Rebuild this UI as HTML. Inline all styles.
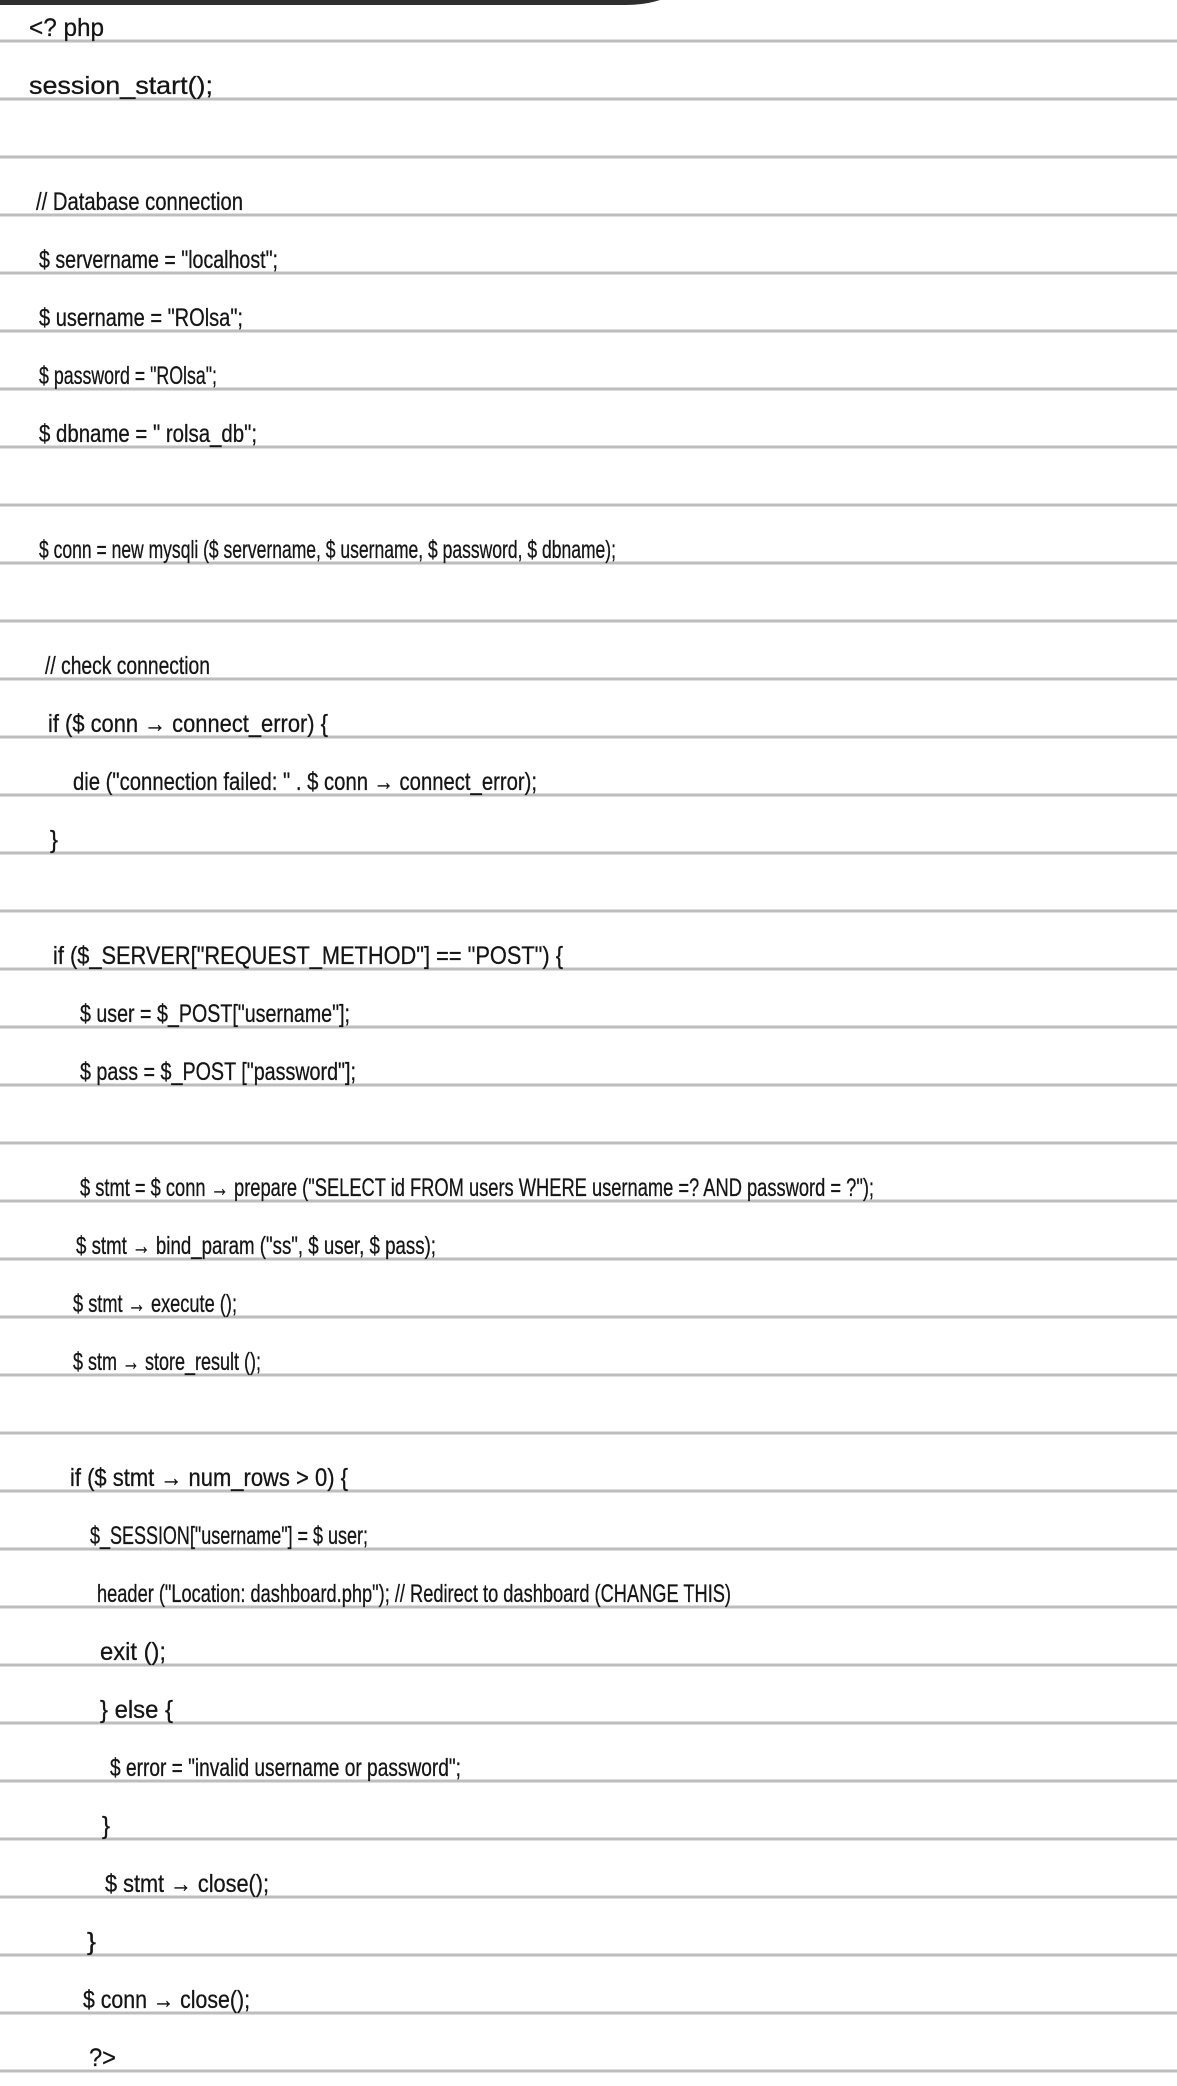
<!DOCTYPE html>
<html><head><meta charset="utf-8"><style>
html,body{margin:0;padding:0;background:#fff;width:1177px;height:2086px;overflow:hidden}
svg{display:block}
text{font-family:"Liberation Sans",sans-serif;font-size:25px;fill:#151515;stroke:#151515;stroke-width:0.3}
</style></head><body>
<svg width="1177" height="2086" viewBox="0 0 1177 2086" xmlns="http://www.w3.org/2000/svg">
<rect x="0" y="0" width="1177" height="2086" fill="#fff"/>
<path d="M0 0 H660 Q645 5 625 5 H0 Z" fill="#2e2e2e"/>
<g stroke="#bdbdbd" stroke-width="3">
<line x1="0" y1="41" x2="1177" y2="41"/><line x1="0" y1="99" x2="1177" y2="99"/><line x1="0" y1="157" x2="1177" y2="157"/><line x1="0" y1="215" x2="1177" y2="215"/><line x1="0" y1="273" x2="1177" y2="273"/><line x1="0" y1="331" x2="1177" y2="331"/><line x1="0" y1="389" x2="1177" y2="389"/><line x1="0" y1="447" x2="1177" y2="447"/><line x1="0" y1="505" x2="1177" y2="505"/><line x1="0" y1="563" x2="1177" y2="563"/><line x1="0" y1="621" x2="1177" y2="621"/><line x1="0" y1="679" x2="1177" y2="679"/><line x1="0" y1="737" x2="1177" y2="737"/><line x1="0" y1="795" x2="1177" y2="795"/><line x1="0" y1="853" x2="1177" y2="853"/><line x1="0" y1="911" x2="1177" y2="911"/><line x1="0" y1="969" x2="1177" y2="969"/><line x1="0" y1="1027" x2="1177" y2="1027"/><line x1="0" y1="1085" x2="1177" y2="1085"/><line x1="0" y1="1143" x2="1177" y2="1143"/><line x1="0" y1="1201" x2="1177" y2="1201"/><line x1="0" y1="1259" x2="1177" y2="1259"/><line x1="0" y1="1317" x2="1177" y2="1317"/><line x1="0" y1="1375" x2="1177" y2="1375"/><line x1="0" y1="1433" x2="1177" y2="1433"/><line x1="0" y1="1491" x2="1177" y2="1491"/><line x1="0" y1="1549" x2="1177" y2="1549"/><line x1="0" y1="1607" x2="1177" y2="1607"/><line x1="0" y1="1665" x2="1177" y2="1665"/><line x1="0" y1="1723" x2="1177" y2="1723"/><line x1="0" y1="1781" x2="1177" y2="1781"/><line x1="0" y1="1839" x2="1177" y2="1839"/><line x1="0" y1="1897" x2="1177" y2="1897"/><line x1="0" y1="1955" x2="1177" y2="1955"/><line x1="0" y1="2013" x2="1177" y2="2013"/><line x1="0" y1="2071" x2="1177" y2="2071"/>
</g>
<g>
<text x="29" y="36" textLength="75" lengthAdjust="spacingAndGlyphs">&lt;? php</text>
<text x="29" y="94" textLength="184" lengthAdjust="spacingAndGlyphs">session_start();</text>
<text x="36" y="210" textLength="207" lengthAdjust="spacingAndGlyphs">// Database connection</text>
<text x="39" y="268" textLength="239" lengthAdjust="spacingAndGlyphs">$ servername = "localhost";</text>
<text x="39" y="326" textLength="204" lengthAdjust="spacingAndGlyphs">$ username = "ROlsa";</text>
<text x="39" y="384" textLength="178" lengthAdjust="spacingAndGlyphs">$ password = "ROlsa";</text>
<text x="39" y="442" textLength="218" lengthAdjust="spacingAndGlyphs">$ dbname = " rolsa_db";</text>
<text x="39" y="558" textLength="577" lengthAdjust="spacingAndGlyphs">$ conn = new mysqli ($ servername, $ username, $ password, $ dbname);</text>
<text x="45" y="674" textLength="165" lengthAdjust="spacingAndGlyphs">// check connection</text>
<text x="48" y="732" textLength="280" lengthAdjust="spacingAndGlyphs">if ($ conn → connect_error) {</text>
<text x="73" y="790" textLength="464" lengthAdjust="spacingAndGlyphs">die ("connection failed: " . $ conn → connect_error);</text>
<text x="50" y="848" textLength="8" lengthAdjust="spacingAndGlyphs">}</text>
<text x="53" y="964" textLength="510" lengthAdjust="spacingAndGlyphs">if ($_SERVER["REQUEST_METHOD"] == "POST") {</text>
<text x="80" y="1022" textLength="270" lengthAdjust="spacingAndGlyphs">$ user = $_POST["username"];</text>
<text x="80" y="1080" textLength="276" lengthAdjust="spacingAndGlyphs">$ pass = $_POST ["password"];</text>
<text x="80" y="1196" textLength="794" lengthAdjust="spacingAndGlyphs">$ stmt = $ conn → prepare ("SELECT id FROM users WHERE username =? AND password = ?");</text>
<text x="76" y="1254" textLength="360" lengthAdjust="spacingAndGlyphs">$ stmt → bind_param ("ss", $ user, $ pass);</text>
<text x="73" y="1312" textLength="164" lengthAdjust="spacingAndGlyphs">$ stmt → execute ();</text>
<text x="73" y="1370" textLength="188" lengthAdjust="spacingAndGlyphs">$ stm → store_result ();</text>
<text x="70" y="1486" textLength="278" lengthAdjust="spacingAndGlyphs">if ($ stmt → num_rows &gt; 0) {</text>
<text x="90" y="1544" textLength="278" lengthAdjust="spacingAndGlyphs">$_SESSION["username"] = $ user;</text>
<text x="97" y="1602" textLength="634" lengthAdjust="spacingAndGlyphs">header ("Location: dashboard.php");  // Redirect to dashboard (CHANGE THIS)</text>
<text x="100" y="1660" textLength="66" lengthAdjust="spacingAndGlyphs">exit ();</text>
<text x="100" y="1718" textLength="73" lengthAdjust="spacingAndGlyphs">} else {</text>
<text x="110" y="1776" textLength="351" lengthAdjust="spacingAndGlyphs">$ error = "invalid username or password";</text>
<text x="102" y="1834" textLength="8" lengthAdjust="spacingAndGlyphs">}</text>
<text x="105" y="1892" textLength="164" lengthAdjust="spacingAndGlyphs">$ stmt → close();</text>
<text x="87" y="1950" textLength="9" lengthAdjust="spacingAndGlyphs">}</text>
<text x="83" y="2008" textLength="167" lengthAdjust="spacingAndGlyphs">$ conn → close();</text>
<text x="89" y="2066" textLength="27" lengthAdjust="spacingAndGlyphs">?&gt;</text>
</g>
</svg>
</body></html>
